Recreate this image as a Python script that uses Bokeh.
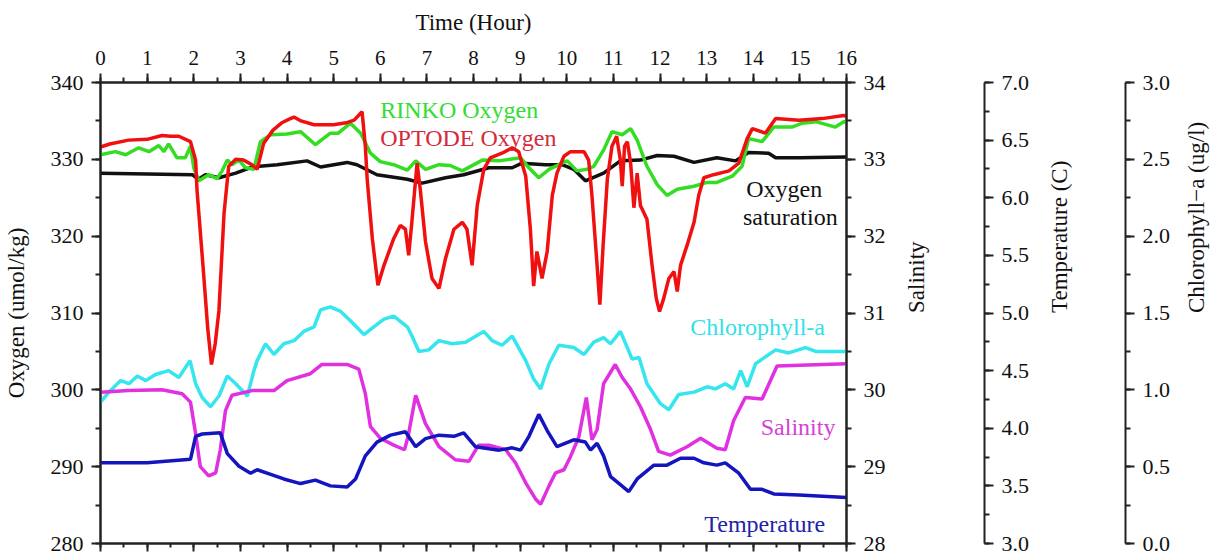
import math
from bokeh.plotting import figure
from bokeh.models import (Range1d, LinearAxis, SingleIntervalTicker, FixedTicker,
                          NumeralTickFormatter, Label)
from bokeh.embed import file_html
from bokeh.resources import INLINE

FONT = "Liberation Serif"

# ---------------- data ----------------
optode_t = [0.0, 0.2, 0.6, 1.0, 1.32, 1.5, 1.68, 1.93, 2.04, 2.07, 2.2, 2.3, 2.38, 2.46, 2.54, 2.65,
            2.75, 2.9, 3.07, 3.25, 3.36, 3.5, 3.7, 3.9, 4.07, 4.15, 4.3, 4.58, 5.0, 5.3, 5.44, 5.61,
            5.68, 5.72, 5.83, 5.95, 6.08, 6.29, 6.43, 6.54, 6.61, 6.68, 6.79, 6.86, 6.97, 7.11, 7.26,
            7.4, 7.58, 7.76, 7.86, 7.97, 8.08, 8.22, 8.36, 8.61, 8.83, 8.97, 9.12, 9.22, 9.29, 9.36,
            9.47, 9.58, 9.69, 9.79, 9.94, 10.08, 10.37, 10.47, 10.54, 10.64, 10.71, 10.78, 10.87,
            10.97, 11.07, 11.15, 11.19, 11.24, 11.3, 11.37, 11.44, 11.51, 11.58, 11.72, 11.83, 11.92,
            11.99, 12.08, 12.19, 12.3, 12.37, 12.44, 12.58, 12.73, 12.83, 12.94, 13.15, 13.48, 13.69,
            13.87, 13.98, 14.26, 14.48, 14.98, 15.48, 15.94, 16.0]
optode_v = [331.6, 332.0, 332.5, 332.6, 333.1, 333.0, 333.0, 332.3, 329.9, 326.0, 316.0, 308.0, 303.3,
            306.0, 310.3, 323.0, 329.1, 330.0, 329.9, 329.3, 328.7, 332.1, 333.8, 334.8, 335.3, 335.5,
            335.0, 334.5, 334.5, 334.8, 335.1, 336.2, 331.7, 327.4, 319.7, 313.6, 316.2, 319.7, 321.4,
            320.9, 317.5, 322.0, 329.5, 326.0, 319.3, 314.5, 313.2, 317.1, 320.9, 321.8, 320.9, 316.2,
            324.0, 328.7, 330.2, 330.8, 331.5, 331.0, 327.8, 320.9, 313.5, 318.0, 314.5, 318.0, 325.3,
            328.2, 330.4, 331.0, 331.0, 329.9, 325.3, 317.1, 311.1, 318.8, 327.4, 331.7, 333.0, 329.9,
            326.5, 331.7, 332.3, 329.5, 323.7, 328.2, 324.0, 322.2, 316.2, 311.9, 310.2, 311.9, 314.5,
            315.4, 312.8, 316.2, 318.8, 321.8, 325.3, 327.6, 328.0, 328.5, 329.5, 332.7, 334.0, 333.4,
            335.3, 335.1, 335.3, 335.7, 335.6]

rinko_t = [0.0, 0.32, 0.54, 0.82, 1.04, 1.25, 1.36, 1.46, 1.64, 1.82, 1.93, 2.0, 2.11, 2.32, 2.5, 2.61,
           2.72, 2.82, 2.97, 3.11, 3.29, 3.43, 3.65, 4.0, 4.29, 4.61, 4.93, 5.1, 5.36, 5.58, 5.79, 6.0,
           6.29, 6.58, 6.76, 6.97, 7.26, 7.5, 7.76, 8.19, 8.55, 9.01, 9.19, 9.4, 9.62, 9.9, 10.01, 10.22,
           10.44, 10.58, 10.79, 10.97, 11.19, 11.37, 11.51, 11.72, 11.94, 12.15, 12.37, 12.73, 13.01,
           13.22, 13.55, 13.76, 13.9, 14.19, 14.44, 14.83, 15.05, 15.34, 15.76, 15.94, 16.0]
rinko_v = [330.6, 331.0, 330.6, 331.5, 331.0, 331.8, 331.0, 332.0, 330.2, 330.2, 331.7, 328.9, 327.2,
           328.0, 327.5, 328.5, 329.9, 329.3, 329.9, 328.9, 328.7, 332.3, 333.2, 333.3, 333.6, 331.9,
           333.4, 333.4, 334.7, 333.4, 330.8, 329.7, 329.3, 328.6, 329.8, 328.7, 329.3, 329.2, 328.5,
           329.9, 329.8, 330.2, 328.9, 327.6, 328.7, 329.5, 329.8, 328.5, 328.7, 329.1, 331.2, 333.6,
           333.2, 334.0, 332.5, 329.1, 326.7, 325.3, 326.1, 326.5, 327.0, 327.0, 327.8, 329.1, 332.7,
           332.3, 334.2, 334.2, 334.7, 334.9, 334.2, 334.9, 334.8]

sat_t = [0.0, 1.0, 1.97, 2.1, 2.25, 2.54, 2.9, 3.25, 3.79, 4.43, 4.72, 5.29, 5.5, 5.93, 6.58, 6.9, 7.4,
         7.79, 8.33, 8.83, 9.04, 9.54, 9.9, 10.15, 10.4, 10.79, 11.15, 11.58, 11.94, 12.3, 12.73, 13.22,
         13.62, 13.9, 14.33, 14.48, 15.0, 16.0]
sat_v = [328.2, 328.1, 328.0, 327.4, 328.0, 327.6, 328.2, 329.0, 329.3, 329.8, 329.0, 329.6, 329.3,
         328.0, 327.4, 326.9, 327.6, 328.0, 328.9, 328.9, 329.5, 329.3, 329.3, 328.7, 327.2, 328.2,
         329.8, 329.9, 330.5, 330.4, 329.6, 330.2, 329.8, 330.9, 330.8, 330.2, 330.2, 330.3]

chl_t = [0.0, 0.18, 0.43, 0.61, 0.79, 0.97, 1.18, 1.46, 1.68, 1.92, 2.04, 2.18, 2.36, 2.54, 2.72, 2.9,
         3.15, 3.29, 3.36, 3.54, 3.72, 3.93, 4.15, 4.36, 4.58, 4.72, 4.93, 5.15, 5.36, 5.65, 5.86, 6.08,
         6.29, 6.58, 6.68, 6.83, 7.04, 7.26, 7.54, 7.83, 8.22, 8.4, 8.61, 8.83, 9.12, 9.29, 9.44, 9.62,
         9.83, 10.15, 10.37, 10.58, 10.79, 10.94, 11.15, 11.3, 11.4, 11.55, 11.72, 12.01, 12.19, 12.4,
         12.73, 13.01, 13.19, 13.4, 13.58, 13.73, 13.87, 14.05, 14.19, 14.48, 14.76, 15.12, 15.34, 16.0]
chl_v = [0.92, 0.985, 1.06, 1.04, 1.09, 1.06, 1.10, 1.125, 1.08, 1.19, 1.04, 0.95, 0.89, 0.96, 1.09,
         1.04, 0.96, 1.125, 1.19, 1.30, 1.23, 1.30, 1.32, 1.38, 1.41, 1.52, 1.54, 1.51, 1.45, 1.36, 1.41,
         1.46, 1.48, 1.41, 1.35, 1.25, 1.26, 1.32, 1.30, 1.31, 1.38, 1.32, 1.29, 1.35, 1.19, 1.07, 1.006,
         1.17, 1.29, 1.275, 1.23, 1.31, 1.34, 1.30, 1.38, 1.275, 1.20, 1.21, 1.04, 0.91, 0.87, 0.97,
         0.985, 1.02, 1.006, 1.04, 1.006, 1.125, 1.02, 1.17, 1.20, 1.26, 1.24, 1.275, 1.25, 1.25]

sal_t = [0.0, 0.6, 1.32, 1.75, 1.93, 2.04, 2.14, 2.32, 2.47, 2.57, 2.68, 2.82, 3.25, 3.72, 4.0, 4.5,
         4.75, 5.29, 5.54, 5.68, 5.79, 6.0, 6.29, 6.52, 6.6, 6.76, 6.97, 7.26, 7.61, 7.9, 8.11, 8.33,
         8.69, 8.9, 9.12, 9.33, 9.44, 9.62, 9.76, 9.94, 10.08, 10.26, 10.42, 10.54, 10.65, 10.79, 11.04,
         11.19, 11.37, 11.58, 11.8, 11.97, 12.22, 12.58, 12.87, 13.22, 13.4, 13.58, 13.83, 14.19, 14.51,
         16.0]
sal_v = [29.97, 29.99, 30.0, 29.95, 29.84, 29.43, 29.0, 28.88, 28.92, 29.22, 29.73, 29.93, 29.99, 29.99,
         30.12, 30.21, 30.33, 30.33, 30.27, 29.95, 29.52, 29.37, 29.28, 29.22, 29.4, 29.93, 29.56, 29.26,
         29.09, 29.07, 29.28, 29.28, 29.22, 29.05, 28.79, 28.58, 28.51, 28.75, 28.92, 28.96, 29.13, 29.39,
         29.9, 29.35, 29.48, 30.08, 30.33, 30.16, 30.01, 29.78, 29.48, 29.2, 29.15, 29.26, 29.37, 29.24,
         29.22, 29.6, 29.9, 29.88, 30.31, 30.34]

temp_t = [0.0, 1.0, 1.93, 2.04, 2.18, 2.57, 2.72, 2.97, 3.22, 3.36, 3.65, 3.93, 4.29, 4.61, 4.93, 5.29,
          5.47, 5.68, 5.93, 6.22, 6.54, 6.76, 6.97, 7.26, 7.58, 7.79, 8.04, 8.55, 8.83, 9.01, 9.19, 9.4,
          9.58, 9.79, 10.15, 10.4, 10.51, 10.65, 10.79, 10.94, 11.15, 11.33, 11.51, 11.87, 12.15, 12.44,
          12.73, 12.94, 13.22, 13.4, 13.69, 13.94, 14.19, 14.44, 14.98, 16.0]
temp_v = [3.70, 3.70, 3.73, 3.93, 3.95, 3.96, 3.78, 3.67, 3.61, 3.64, 3.60, 3.56, 3.52, 3.55, 3.50, 3.49,
          3.56, 3.76, 3.88, 3.94, 3.97, 3.84, 3.91, 3.94, 3.93, 3.96, 3.84, 3.81, 3.83, 3.81, 3.93, 4.12,
          3.98, 3.84, 3.90, 3.88, 3.81, 3.87, 3.76, 3.58, 3.51, 3.45, 3.56, 3.68, 3.68, 3.74, 3.74, 3.70,
          3.68, 3.70, 3.61, 3.47, 3.47, 3.43, 3.42, 3.40]

# ---------------- figure ----------------
AX = "#222222"

p = figure(width=1224, height=556, x_range=Range1d(0, 16), y_range=Range1d(280, 340),
           x_axis_location="above", output_backend="svg", toolbar_location=None,
           min_border_left=100, min_border_top=82, min_border_bottom=13, min_border_right=378)
p.grid.visible = False
p.outline_line_color = AX
p.outline_line_width = 2
p.background_fill_color = "white"
p.border_fill_color = "white"

p.extra_y_ranges = {"sal": Range1d(28, 34), "temp": Range1d(3, 7), "chl": Range1d(0, 3)}


def style(ax, label_size="22px"):
    ax.major_label_text_font = FONT
    ax.major_label_text_font_size = label_size
    ax.major_label_text_color = "#111111"
    ax.axis_label_text_font = FONT
    ax.axis_label_text_font_size = "23px"
    ax.axis_label_text_font_style = "normal"
    ax.axis_label_text_color = "#111111"
    ax.axis_line_color = AX
    ax.axis_line_width = 2
    ax.major_tick_line_color = AX
    ax.minor_tick_line_color = AX
    ax.major_tick_line_width = 2
    ax.minor_tick_line_width = 2
    ax.major_tick_out = 9
    ax.major_tick_in = 0
    ax.minor_tick_out = 5
    ax.minor_tick_in = 0


# top x axis
xa = p.xaxis[0]
xa.ticker = SingleIntervalTicker(interval=1, num_minor_ticks=2)
xa.axis_label = "Time (Hour)"
style(xa, "21px")
xa.major_label_standoff = 9
xa.axis_label_standoff = 13

# bottom axis: ticks only (labels not drawn)
xb = LinearAxis(ticker=SingleIntervalTicker(interval=1, num_minor_ticks=2))
style(xb)
xb.major_label_text_color = None
xb.major_label_text_font_size = "1px"
xb.major_label_standoff = 0
xb.major_tick_out = 8
xb.minor_tick_out = 4
p.add_layout(xb, "below")

# left oxygen axis
ya = p.yaxis[0]
ya.ticker = SingleIntervalTicker(interval=10, num_minor_ticks=2)
ya.axis_label = "Oxygen (umol/kg)"
style(ya)
ya.major_label_standoff = 8
ya.axis_label_standoff = 19

# salinity axis
sal_ax = LinearAxis(y_range_name="sal", ticker=SingleIntervalTicker(interval=1, num_minor_ticks=2),
                    axis_label="Salinity")
style(sal_ax)
sal_ax.major_label_standoff = 8
sal_ax.axis_label_standoff = 28
sal_ax.axis_label_orientation = math.pi / 2
p.add_layout(sal_ax, "right")


def spacer(w):
    # invisible axis used only to reserve horizontal room between the right axes
    s = LinearAxis(y_range_name="sal", ticker=FixedTicker(ticks=[28]))
    s.axis_line_color = None
    s.major_tick_line_color = "white"
    s.minor_tick_line_color = None
    s.major_tick_out = w
    s.major_tick_in = 0
    s.minor_tick_out = 0
    s.major_label_standoff = 0
    s.major_label_text_color = None
    s.major_label_text_font_size = "1px"
    return s


p.add_layout(spacer(40), "right")

temp_ax = LinearAxis(y_range_name="temp", ticker=SingleIntervalTicker(interval=0.5, num_minor_ticks=2),
                     axis_label="Temperature (C)", formatter=NumeralTickFormatter(format="0.0"))
style(temp_ax)
temp_ax.major_label_standoff = 8
temp_ax.axis_label_standoff = 27
temp_ax.axis_label_orientation = math.pi / 2
p.add_layout(temp_ax, "right")

p.add_layout(spacer(38), "right")

chl_ax = LinearAxis(y_range_name="chl", ticker=SingleIntervalTicker(interval=0.5, num_minor_ticks=2),
                    axis_label="Chlorophyll\u2212a (ug/l)", formatter=NumeralTickFormatter(format="0.0"))
style(chl_ax)
chl_ax.major_label_standoff = 8
chl_ax.axis_label_standoff = 23
chl_ax.axis_label_orientation = math.pi / 2
p.add_layout(chl_ax, "right")

# ---------------- lines ----------------
LW = 3.5
p.line(chl_t, chl_v, y_range_name="chl", line_color="#35e6ee", line_width=LW)
p.line(sal_t, sal_v, y_range_name="sal", line_color="#e030e0", line_width=LW)
p.line(temp_t, temp_v, y_range_name="temp", line_color="#1515c0", line_width=LW)
p.line(sat_t, sat_v, line_color="#111111", line_width=LW)
p.line(rinko_t, rinko_v, line_color="#33dd22", line_width=LW)
p.line(optode_t, optode_v, line_color="#f01010", line_width=LW)

# ---------------- annotations ----------------
def lab(x, y, text, color, **kw):
    p.add_layout(Label(x=x, y=y, text=text, text_font=FONT, text_font_size="24px",
                       text_color=color, text_baseline="alphabetic", **kw))


lab(6.0, 336.45, "RINKO Oxygen", "#33dd33")
lab(6.0, 332.75, "OPTODE Oxygen", "#d42a3a")
lab(13.85, 326.1, "Oxygen", "#111111")
lab(13.78, 322.45, "saturation", "#111111")
lab(12.65, 308.2, "Chlorophyll-a", "#33e0e8")
lab(14.16, 295.2, "Salinity", "#d640d6")
lab(12.95, 282.5, "Temperature", "#2222aa")

open("out.html", "w").write(file_html(p, INLINE))
